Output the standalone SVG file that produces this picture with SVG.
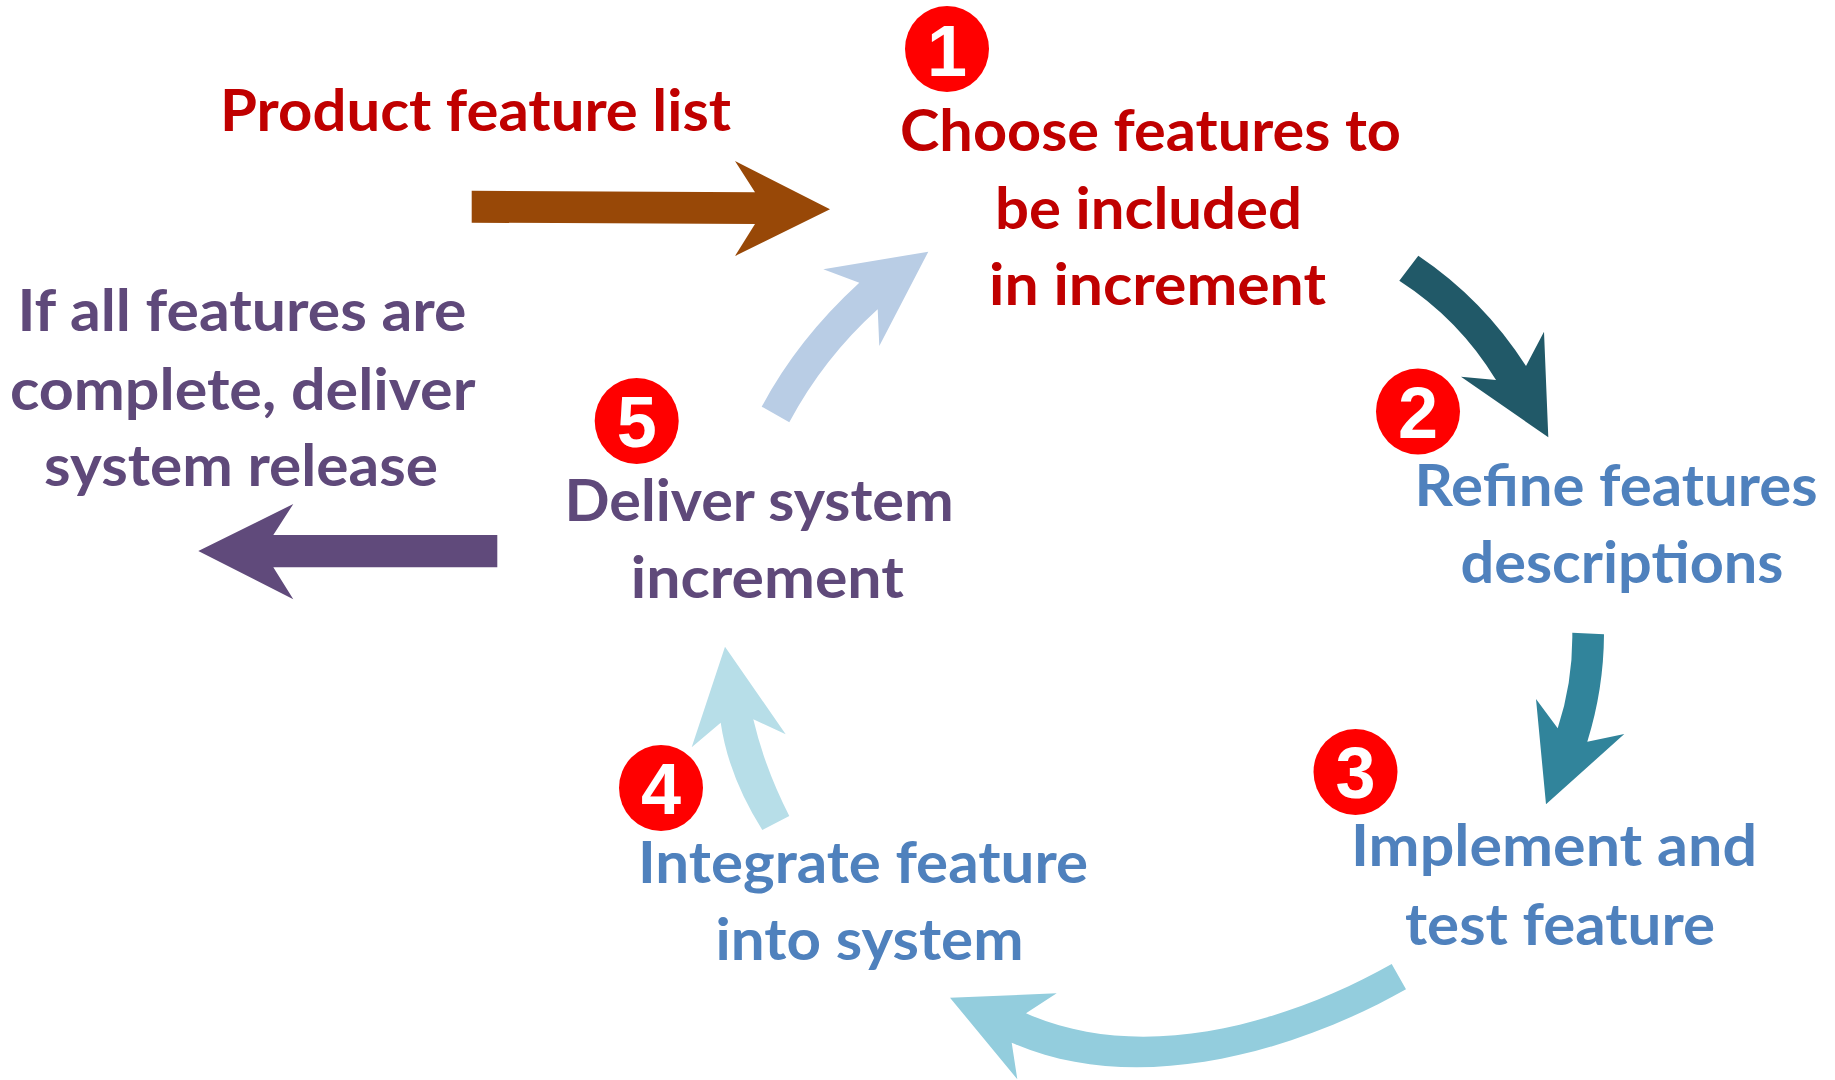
<svg xmlns="http://www.w3.org/2000/svg" width="1835" height="1080" viewBox="0 0 1835 1080">
<style>
.t{font-family:Lato,"Open Sans","Liberation Sans",sans-serif;font-weight:bold;font-size:57px}
.red{fill:#C00000}
.blue{fill:#4F81BD}
.purp{fill:#5F497A}
.badge{fill:#FF0000}
.num{font-family:"Liberation Sans",Arial,sans-serif;font-weight:bold;font-size:72px;fill:#FFFFFF;text-anchor:middle}
</style>
<rect width="1835" height="1080" fill="#FFFFFF"/>
<g id="connectors">
<path id="arrow-input" fill="#984807" d="M471.7 190.7 L755 192.3 L735 161 L830 209.3 L735 256 L755 224 L471.7 222.7 Z"/>
<path id="arrow-release" fill="#604A7B" d="M198.3 551 L293.3 504 L273.3 535 L497.3 535 L497.3 567.3 L273.3 567.3 L293.3 599.3 Z"/>
<path id="arrow-5-1" fill="#B9CDE5" d="M761.7 406.7 Q797.5 339.3 859.3 282.7 L823.3 269.3 L928.3 251.7 L879.3 346 L877.7 309.3 Q823.5 358.2 789.3 422.3 Z"/>
<path id="arrow-1-2" fill="#215968" d="M1418.3 255.7 Q1483.6 299.6 1526 366 L1544 331.7 L1548.3 437.3 L1461 376.7 L1496 380 Q1459.1 319.2 1399.3 280.7 Z"/>
<path id="arrow-2-3" fill="#31849B" d="M1572.3 632.7 L1604 634.3 Q1603.7 689.2 1587.3 741.7 L1624.3 734 L1546 804.3 L1536 699 L1557.7 728.3 Q1573 681.5 1572.3 632.7 Z"/>
<path id="arrow-3-4" fill="#93CDDD" d="M1391.7 964 C1282.9 1025.3 1140.3 1063.9 1026 1013.3 L1056.7 993.3 L950 997.7 L1017.3 1079.3 L1011.7 1042.7 C1133.3 1096.6 1290.3 1054.5 1406 989.3 Z"/>
<path id="arrow-4-5" fill="#B7DEE8" d="M762.3 830 Q728.5 776.4 720.7 722.7 L691.7 747.3 L725 646.7 L785.7 734.3 L753.3 719.3 Q764.7 767.7 789.3 816 Z"/>
</g>
<g id="input-label">
<text class="t red" x="220" y="131" textLength="511" lengthAdjust="spacingAndGlyphs">Product feature list</text>
</g>
<g id="step1">
<ellipse class="badge" cx="947" cy="49" rx="42" ry="43"/>
<text class="num" x="947" y="76">1</text>
<text class="t red" x="900" y="150.5" textLength="501" lengthAdjust="spacingAndGlyphs">Choose features to</text>
<text class="t red" x="995" y="229" textLength="307" lengthAdjust="spacingAndGlyphs">be included</text>
<text class="t red" x="989" y="304.8" textLength="337" lengthAdjust="spacingAndGlyphs">in increment</text>
</g>
<g id="step2">
<ellipse class="badge" cx="1418" cy="411.5" rx="42" ry="43"/>
<text class="num" x="1418" y="438">2</text>
<text class="t blue" x="1414.6" y="506" textLength="403" lengthAdjust="spacingAndGlyphs">Refine features</text>
<text class="t blue" x="1460.5" y="583" textLength="323" lengthAdjust="spacingAndGlyphs">descriptions</text>
</g>
<g id="step3">
<ellipse class="badge" cx="1355.5" cy="772" rx="42" ry="43"/>
<text class="num" x="1355.5" y="798">3</text>
<text class="t blue" x="1351" y="866.4" textLength="406" lengthAdjust="spacingAndGlyphs">Implement and</text>
<text class="t blue" x="1405" y="944.6" textLength="310" lengthAdjust="spacingAndGlyphs">test feature</text>
</g>
<g id="step4">
<ellipse class="badge" cx="661" cy="788" rx="42" ry="43"/>
<text class="num" x="661" y="814">4</text>
<text class="t blue" x="638" y="882.6" textLength="450" lengthAdjust="spacingAndGlyphs">Integrate feature</text>
<text class="t blue" x="715.6" y="960" textLength="308" lengthAdjust="spacingAndGlyphs">into system</text>
</g>
<g id="step5">
<ellipse class="badge" cx="636.7" cy="421" rx="42" ry="43"/>
<text class="num" x="636.7" y="447">5</text>
<text class="t purp" x="564.6" y="521" textLength="389" lengthAdjust="spacingAndGlyphs">Deliver system</text>
<text class="t purp" x="630.8" y="597.9" textLength="273" lengthAdjust="spacingAndGlyphs">increment</text>
</g>
<g id="release-label">
<text class="t purp" x="17.5" y="331" textLength="449" lengthAdjust="spacingAndGlyphs">If all features are</text>
<text class="t purp" x="9.9" y="409.8" textLength="465.5" lengthAdjust="spacingAndGlyphs">complete, deliver</text>
<text class="t purp" x="44" y="485.5" textLength="394" lengthAdjust="spacingAndGlyphs">system release</text>
</g>
</svg>
